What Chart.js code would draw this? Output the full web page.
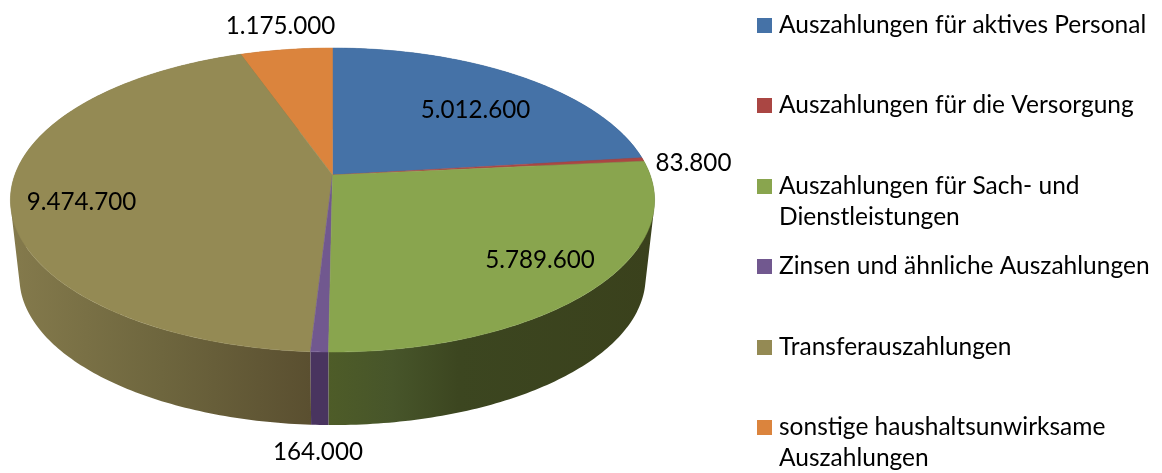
<!DOCTYPE html>
<html lang="de">
<head>
<meta charset="utf-8">
<title>Auszahlungen</title>
<style>html,body{margin:0;padding:0;background:#fff}canvas{display:block}</style>
<script src="https://cdn.jsdelivr.net/npm/chart.js@4"></script>
</head>
<body>
<canvas id="c" width="1162" height="473"></canvas>
<script>
const categories = [
  ["Auszahlungen für aktives Personal"],
  ["Auszahlungen für die Versorgung"],
  ["Auszahlungen für Sach- und", "Dienstleistungen"],
  ["Zinsen und ähnliche Auszahlungen"],
  ["Transferauszahlungen"],
  ["sonstige haushaltsunwirksame", "Auszahlungen"]
];
const values = [5012600, 83800, 5789600, 164000, 9474700, 1175000];
const valueLabels = ["5.012.600", "83.800", "5.789.600", "164.000", "9.474.700", "1.175.000"];
const colors = ["#4572A7", "#AA4643", "#89A54E", "#71588F", "#948A54", "#DB843D"];

// layout of the picture, separate from the data
const labelCentres = [[475.5,110],[693.5,163],[540,260],[318,452],[81.5,202],[280.5,26]];
const legendRows = [18,98,179,259,340,420];
const VALUE_FONT = '24.2px Lato, Carlito, sans-serif';
const LEGEND_FONT = '24.5px Lato, Carlito, sans-serif';
const wallStops = [
  [[0,'#2e4a70'],[1,'#2e4a70']],
  [[0,'#6e2d2b'],[1,'#6e2d2b']],
  [[0,'#4e5c28'],[0.2,'#47552a'],[0.4,'#3c4620'],[1,'#3a411c']],
  [[0,'#49345f'],[1,'#49345f']],
  [[0,'#847a4c'],[0.5,'#6e663e'],[1,'#5a4f30']],
  [[0,'#8f5628'],[1,'#8f5628']]
];
const wallSpans = [[332,654],[332,654],[328,654],[310,330],[12,311],[240,332]];
const X0 = 332.5, Y0 = 175, M = 317.7, K = 147.9, C = 0.1645;
const BY0 = 253, BS = 0.972;

function rim(theta, yApex, s){
  const u = Math.sin(theta), v = -Math.cos(theta), d = 1 - C*v;
  return [X0 + s*M*u/d, yApex + s*K*v/d];
}
function sweep(ctx, a, b){
  const n = Math.max(2, Math.ceil(Math.abs(b-a)/0.01));
  for(let i=0;i<=n;i++){
    const p = rim(a+(b-a)*i/n, Y0, 1);
    ctx.lineTo(p[0],p[1]);
  }
}
function area(q){
  let s = 0;
  for(let i=0;i<q.length;i++){
    const p = q[i], r = q[(i+1)%q.length];
    s += p[0]*r[1]-r[0]*p[1];
  }
  return s;
}
const pie3d = {
  id:'pie3d',
  beforeDatasetsDraw(chart){
    const ctx = chart.ctx, arcs = chart.getDatasetMeta(0).data;
    const order = [0,1,5,4,3,2];
    // side wall: all rim steps in one path, each wound the same way, filled once
    order.forEach(i=>{
      const a = arcs[i].startAngle+Math.PI/2, b = arcs[i].endAngle+Math.PI/2;
      const g = ctx.createLinearGradient(wallSpans[i][0],0,wallSpans[i][1],0);
      wallStops[i].forEach(s=>g.addColorStop(s[0],s[1]));
      ctx.fillStyle = g;
      const n = Math.max(2, Math.ceil((b-a)/0.015));
      ctx.beginPath();
      for(let k=0;k<n;k++){
        const t1 = a+(b-a)*k/n, t2 = a+(b-a)*(k+1)/n;
        let q = [rim(t1,Y0,1), rim(t2,Y0,1), rim(t2,BY0,BS), rim(t1,BY0,BS)];
        if(area(q)<0) q = q.reverse();
        ctx.moveTo(q[0][0],q[0][1]);
        ctx.lineTo(q[1][0],q[1][1]);
        ctx.lineTo(q[2][0],q[2][1]);
        ctx.lineTo(q[3][0],q[3][1]);
        ctx.closePath();
      }
      ctx.fill('nonzero');
    });
    // top face
    order.forEach(i=>{
      const a = arcs[i].startAngle+Math.PI/2, b = arcs[i].endAngle+Math.PI/2;
      ctx.fillStyle = arcs[i].options.backgroundColor;
      ctx.strokeStyle = arcs[i].options.backgroundColor;
      ctx.lineWidth = 0.5;
      ctx.beginPath();
      ctx.moveTo(X0,Y0);
      sweep(ctx,a,b);
      ctx.closePath();
      ctx.fill();
      ctx.stroke();
    });
    return false;
  },
  afterDraw(chart){
    const ctx = chart.ctx;
    ctx.save();
    ctx.font = VALUE_FONT;
    ctx.fillStyle = '#000';
    ctx.textBaseline = 'middle';
    ctx.textAlign = 'center';
    valueLabels.forEach((t,i)=>ctx.fillText(t,labelCentres[i][0],labelCentres[i][1]));
    ctx.textAlign = 'left';
    ctx.font = LEGEND_FONT;
    categories.forEach((lines,i)=>{
      ctx.fillStyle = colors[i];
      ctx.fillRect(757,legendRows[i],15,15);
      ctx.fillStyle = '#000';
      lines.forEach((t,j)=>ctx.fillText(t,779,legendRows[i]+7.5+j*31));
    });
    ctx.restore();
  }
};
new Chart(document.getElementById('c'),{
  type:'pie',
  data:{labels:categories.map(l=>l.join(' ')),datasets:[{data:values,backgroundColor:colors,borderWidth:0}]},
  options:{
    responsive:false,animation:false,
    layout:{padding:{left:157,top:2,right:655,bottom:121}},
    plugins:{legend:{display:false},tooltip:{enabled:false},title:{display:false}}
  },
  plugins:[pie3d]
});
</script>
</body>
</html>
